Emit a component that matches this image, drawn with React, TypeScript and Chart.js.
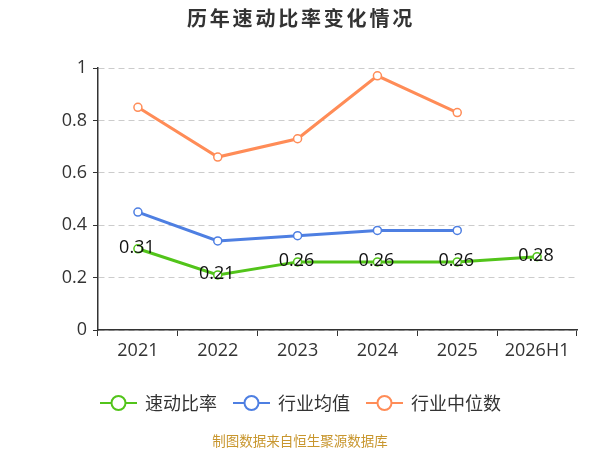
import { useEffect, useRef } from "react";
import { Chart, registerables } from "chart.js";

Chart.register(...registerables);

const years = ["2021", "2022", "2023", "2024", "2025", "2026H1"];
const quickRatio = [0.31, 0.21, 0.26, 0.26, 0.26, 0.28];
const industryMean = [0.45, 0.34, 0.36, 0.38, 0.38, null];
const industryMedian = [0.85, 0.66, 0.73, 0.97, 0.83, null];

const GREEN = "#52C41A";
const BLUE = "#4E7FE2";
const ORANGE = "#FF8C57";
const FONT = "'Noto Sans CJK SC', 'Noto Sans', sans-serif";
const NUM_FONT = "'Open Sans', 'Noto Sans', sans-serif";

// 标题、图例、数据标签、底部来源
const decorPlugin = {
  id: "decor",
  afterDatasetsDraw(chart: any) {
    const { ctx } = chart;
    ctx.save();

    // 数据标签(仅速动比率)
    const meta = chart.getDatasetMeta(0);
    ctx.font = `18px ${NUM_FONT}`;
    ctx.fillStyle = "#111";
    ctx.textAlign = "center";
    ctx.textBaseline = "middle";
    meta.data.forEach((pt: any, i: number) => {
      const v = quickRatio[i];
      if (v == null) return;
      ctx.fillText(v.toFixed(2), pt.x - 1, pt.y - 1);
    });

    // 标题
    ctx.font = `bold 20px ${FONT}`;
    ctx.fillStyle = "#333";
    (ctx as any).letterSpacing = "2.8px";
    ctx.fillText("历年速动比率变化情况", 301, 18);
    (ctx as any).letterSpacing = "0px";

    // 图例
    const starts = [100, 233, 366];
    ctx.font = `18px ${FONT}`;
    ctx.textAlign = "left";
    chart.data.datasets.forEach((ds: any, i: number) => {
      const x = starts[i];
      const y = 403;
      ctx.strokeStyle = ds.borderColor;
      ctx.lineWidth = 2;
      ctx.beginPath();
      ctx.moveTo(x, y);
      ctx.lineTo(x + 37, y);
      ctx.stroke();
      ctx.beginPath();
      ctx.arc(x + 18.5, y, 7, 0, Math.PI * 2);
      ctx.fillStyle = "#fff";
      ctx.fill();
      ctx.stroke();
      ctx.fillStyle = "#333";
      ctx.fillText(ds.label, x + 45, y);
    });

    // 来源
    ctx.textAlign = "center";
    ctx.font = `13.5px ${FONT}`;
    ctx.fillStyle = "#C8962E";
    ctx.fillText("制图数据来自恒生聚源数据库", 300, 441);

    ctx.restore();
  },
};

export default function App() {
  const chartRef = useRef<HTMLCanvasElement | null>(null);

  useEffect(() => {
    document.body.style.margin = "0";
    if (!chartRef.current) return;
    const ctx = chartRef.current.getContext("2d");
    if (!ctx) return;

    const lineStyle = (color: string) => ({
      borderColor: color,
      backgroundColor: color,
      borderWidth: 3,
      pointRadius: 4,
      pointBorderWidth: 1.5,
      pointBackgroundColor: "#fff",
      pointBorderColor: color,
      tension: 0,
      spanGaps: false,
    });

    const chart = new Chart(ctx, {
      type: "line",
      data: {
        labels: years,
        datasets: [
          { label: "速动比率", data: quickRatio, ...lineStyle(GREEN) },
          { label: "行业均值", data: industryMean, ...lineStyle(BLUE) },
          { label: "行业中位数", data: industryMedian, ...lineStyle(ORANGE) },
        ],
      },
      options: {
        responsive: false,
        animation: false,
        layout: { padding: { top: 68, right: 23, bottom: 80, left: 0 } },
        plugins: {
          legend: { display: false },
          title: { display: false },
          tooltip: { enabled: false },
        },
        scales: {
          x: {
            offset: true,
            grid: {
              display: true,
              drawOnChartArea: false,
              offset: true,
              tickLength: 6,
              tickColor: "#333",
            },
            border: { color: "#333", width: 1.5 },
            ticks: {
              color: "#333",
              padding: 4,
              font: { size: 18, family: NUM_FONT },
            },
            afterFit: (scale: any) => {
              scale.height = 40;
            },
          },
          y: {
            min: 0,
            max: 1,
            grid: {
              color: "#CCCCCC",
              lineWidth: 1,
              tickLength: 5,
              tickColor: "#333",
            },
            border: { color: "#333", width: 1.5, dash: [6, 4] },
            ticks: {
              stepSize: 0.2,
              color: "#333",
              padding: 6,
              font: { size: 18, family: NUM_FONT },
              callback: (v: any) => String(Math.round(Number(v) * 10) / 10),
            },
            afterFit: (scale: any) => {
              scale.width = 98;
            },
          },
        },
      },
      plugins: [decorPlugin],
    });

    return () => {
      chart.destroy();
    };
  }, []);

  return (
    <div style={{ width: 600, height: 450, background: "#fff" }}>
      <canvas ref={chartRef} width={600} height={450}></canvas>
    </div>
  );
}
